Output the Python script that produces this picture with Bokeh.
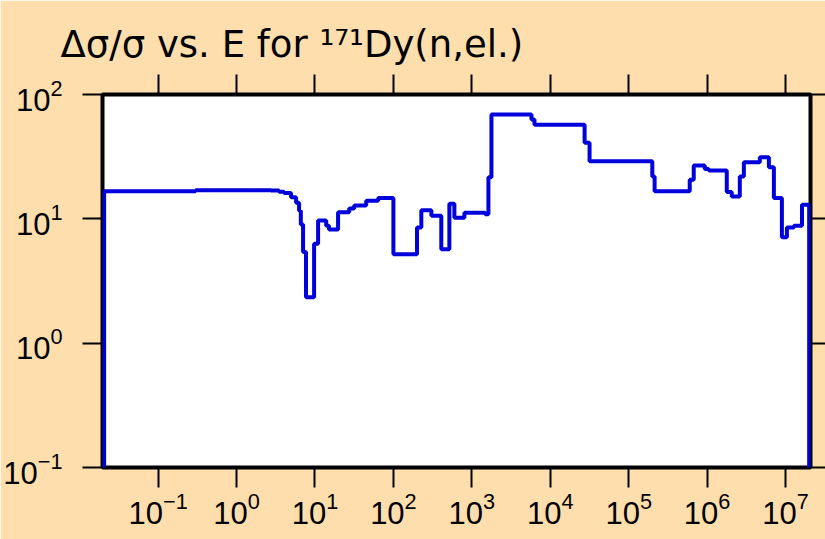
from bokeh.plotting import figure
from bokeh.models import LogAxis, FixedTicker, LogTickFormatter, CustomJSTickFormatter
from bokeh.embed import file_html
from bokeh.resources import INLINE

# Energy bin edges (eV) and relative uncertainty (%) of each bin
edges = [0.0205, 0.3, 2.75, 3.48, 4.03, 4.95, 5.74, 6.27, 6.6, 7.05, 7.69, 9.75,
         10.96, 13.9, 15.1, 19.7, 27.3, 31.6, 45, 64, 100, 200, 227, 305, 408,
         517, 599, 804, 1480, 1627, 1778, 5760, 6290, 27400, 31700, 2.0e5,
         2.14e5, 6.0e5, 6.75e5, 9.33e5, 1.05e6, 1.78e6, 2.06e6, 2.61e6, 2.94e6,
         4.7e6, 6.13e6, 7.1e6, 8.98e6, 1.04e7, 1.28e7, 1.62e7, 2.0e7]
values = [16.7, 17.0, 16.9, 16.5, 16.1, 14.9, 13.5, 11.6, 9.0, 5.4, 2.34,
          6.3, 9.7, 8.8, 8.2, 11.3, 12.1, 12.8, 14.0, 14.7, 5.2, 8.5, 11.7,
          10.6, 5.7, 13.2, 10.2, 11.2, 10.9, 21.6, 69, 63, 57, 41, 29, 21.9,
          16.7, 20.6, 26.9, 25.2, 24.5, 16.4, 15.1, 21.9, 28.5, 31.3, 26,
          14.7, 7.1, 8.5, 8.8, 13.0]
x_ticks = [1e-1, 1e0, 1e1, 1e2, 1e3, 1e4, 1e5, 1e6, 1e7]
y_ticks = [1e-1, 1e0, 1e1, 1e2]
floor_value = 1e-3

title_text = "Δσ/σ vs. E for ¹⁷¹Dy(n,el.)"

BG = "#FFDEAD"
BLUE = "#0000DD"
FONT = "Liberation Sans"

xs = [edges[0]] + edges
ys = [floor_value] + values + [floor_value]

p = figure(width=825, height=539, x_axis_type="log", y_axis_type="log",
           x_range=(0.01954, 2.08e7), y_range=(0.1, 100),
           output_backend="svg", toolbar_location=None,
           min_border_left=102, min_border_right=15, min_border_top=94,
           min_border_bottom=72)
p.background_fill_color = "white"
p.border_fill_color = BG
p.outline_line_color = "black"
p.outline_line_width = 4
p.grid.visible = False

p.step(xs, ys, mode="after", line_color=BLUE, line_width=4)

blank = CustomJSTickFormatter(code="return ''")

def style(ax, tick_out=20, labels=True):
    ax.axis_line_color = None
    ax.major_tick_line_color = "black"
    ax.major_tick_line_width = 2
    ax.major_tick_out = tick_out
    ax.major_tick_in = 0
    ax.minor_tick_line_color = None
    if labels:
        ax.formatter = LogTickFormatter()
        ax.major_label_text_font = FONT
        ax.major_label_text_font_size = "31px"
        ax.major_label_text_color = "black"
    else:
        ax.formatter = blank
        ax.major_label_standoff = 0
        ax.major_label_text_font_size = "1px"

xa = p.xaxis[0]
xa.ticker = FixedTicker(ticks=x_ticks, minor_ticks=[])
style(xa)
xa.major_label_standoff = 4

ya = p.yaxis[0]
ya.ticker = FixedTicker(ticks=y_ticks, minor_ticks=[])
style(ya)
ya.major_label_standoff = 20

top = LogAxis(ticker=FixedTicker(ticks=x_ticks, minor_ticks=[]))
style(top, labels=False)
p.add_layout(top, "above")

right = LogAxis(ticker=FixedTicker(ticks=y_ticks, minor_ticks=[]))
style(right, tick_out=15, labels=False)
p.add_layout(right, "right")

p.title.text = title_text
p.title.text_font = "DejaVu Sans"
p.title.text_font_size = "37px"
p.title.text_font_style = "normal"
p.title.text_color = "black"
p.title.align = "left"
p.title.offset = -42
p.title.standoff = 17

html = file_html(p, INLINE)
open("out.html", "w").write(html)
